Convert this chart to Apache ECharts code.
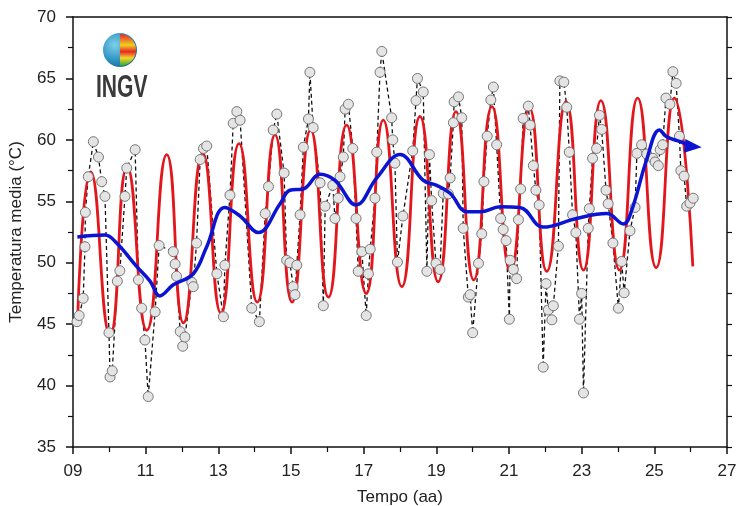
<!DOCTYPE html>
<html>
<head>
<meta charset="utf-8">
<title>Temperatura media</title>
<script src="https://cdn.jsdelivr.net/npm/echarts@6/dist/echarts.min.js"></script>
<style>
  html, body { margin: 0; padding: 0; background: #fff; }
  #chart { width: 737px; height: 506px; }
</style>
</head>
<body>
<div id="chart"></div>
<script>
// anni (09 = 2009) e temperature misurate
var obsYears = [9.11, 9.17, 9.28, 9.33, 9.34, 9.42, 9.56, 9.70, 9.79, 9.88, 9.99, 10.02, 10.08, 10.22, 10.29, 10.43, 10.48, 10.71, 10.80, 10.89, 10.98, 11.07, 11.26, 11.37,
  11.76, 11.81, 11.85, 11.95, 12.02, 12.08, 12.27, 12.31, 12.40, 12.50, 12.59, 12.68, 12.96, 13.14, 13.18, 13.32, 13.41, 13.51, 13.60, 13.92, 14.13, 14.29, 14.38, 14.51, 14.61, 14.81,
  14.88, 14.97, 15.06, 15.11, 15.16, 15.25, 15.34, 15.48, 15.52, 15.61, 15.80, 15.89, 15.94, 16.15, 16.21, 16.30, 16.35, 16.44, 16.49, 16.58, 16.70, 16.79, 16.85, 16.95,
  17.07, 17.13, 17.18, 17.31, 17.36, 17.45, 17.50, 17.77, 17.80, 17.86, 17.93, 18.08, 18.35, 18.44, 18.48, 18.64, 18.74, 18.81, 18.87, 18.99, 19.10, 19.19, 19.33, 19.38,
  19.47, 19.49, 19.61, 19.70, 19.74, 19.88, 19.93, 20.00, 20.16, 20.25, 20.31, 20.40, 20.50, 20.57, 20.66, 20.77, 20.84, 20.92, 21.01, 21.03, 21.12, 21.21, 21.26, 21.32,
  21.39, 21.53, 21.58, 21.67, 21.74, 21.83, 21.94, 22.02, 22.08, 22.18, 22.22, 22.36, 22.40, 22.51, 22.59, 22.66, 22.75, 22.84, 22.94, 23.00, 23.05, 23.18, 23.21, 23.30,
  23.41, 23.49, 23.55, 23.67, 23.73, 23.86, 24.01, 24.10, 24.17, 24.33, 24.47, 24.52, 24.65, 24.79, 24.96, 25.02, 25.11, 25.16, 25.23, 25.32, 25.43, 25.51, 25.60, 25.69,
  25.73, 25.82, 25.89, 25.98, 26.07];
var obsTemps = [45.2, 45.7, 47.1, 51.3, 54.1, 57.0, 59.85, 58.6, 56.6, 55.4, 44.3, 40.7, 41.2, 48.5, 49.35, 55.4, 57.7, 59.2, 48.6, 46.3, 43.7, 39.1, 46.0, 51.4,
  50.9, 49.9, 48.9, 44.4, 43.2, 43.95, 48.4, 48.05, 51.6, 58.4, 59.3, 59.5, 49.1, 45.6, 49.8, 55.5, 61.35, 62.3, 61.6, 46.3, 45.2, 54.0, 56.2, 60.8, 62.1, 57.3,
  50.2, 50.0, 48.05, 47.4, 49.8, 53.9, 59.4, 61.7, 65.5, 61.0, 56.5, 46.5, 54.6, 56.3, 53.6, 55.25, 57.0, 58.6, 62.5, 62.9, 59.3, 53.6, 49.3, 50.9,
  45.7, 49.1, 51.1, 55.25, 59.0, 65.5, 67.2, 61.8, 60.0, 58.1, 50.05, 53.8, 59.1, 63.2, 65.0, 63.9, 49.3, 58.8, 55.05, 49.95, 49.45, 55.65, 55.6, 56.9,
  61.4, 63.1, 63.5, 61.8, 52.8, 47.2, 47.4, 44.3, 49.95, 52.35, 56.6, 60.3, 63.25, 64.3, 59.6, 53.6, 52.7, 51.8, 45.4, 50.2, 49.45, 48.7, 53.5, 56.0,
  61.75, 62.75, 61.2, 57.9, 55.9, 54.7, 41.5, 48.3, 46.15, 45.35, 46.5, 51.35, 64.8, 64.7, 62.65, 59.0, 53.9, 52.45, 45.4, 47.5, 39.4, 52.8, 54.4, 58.5,
  59.3, 62.0, 60.85, 55.9, 54.8, 51.6, 46.3, 50.1, 47.55, 52.6, 54.5, 58.9, 59.6, 58.85, 58.5, 58.2, 57.9, 59.2, 59.6, 63.4, 62.9, 65.55, 64.6, 60.3,
  57.5, 57.05, 54.6, 54.85, 55.25];

// massimi e minimi della curva stagionale (rossa)
var fitYears = [9.12, 9.49, 10.02, 10.49, 11.03, 11.58, 12.04, 12.57, 13.07, 13.57, 14.07, 14.56, 15.03, 15.54, 16.03, 16.53, 17.07, 17.54,
  18.05, 18.55, 19.05, 19.54, 20.03, 20.53, 21.04, 21.56, 22.04, 22.57, 23.05, 23.53, 24.04, 24.54, 25.05, 25.55, 26.06];
var fitTemps = [44.8, 57.4, 44.1, 57.8, 44.5, 58.8, 45.1, 58.9, 45.9, 59.7, 46.8, 60.4, 46.8, 60.8, 47.2, 61.2, 47.5, 61.6,
  48.05, 61.9, 48.45, 62.3, 48.6, 62.7, 49.3, 62.6, 49.3, 63.1, 49.4, 63.2, 49.4, 63.4, 49.6, 63.4, 49.7];

// andamento medio (blu)
var trendYears = [9.12, 9.88, 10.2, 10.75, 11.12, 11.39, 11.76, 12.31, 12.68, 13.18, 13.6, 14.10, 14.70, 14.97, 15.34, 15.80, 16.21, 16.79, 17.36, 18.00,
  18.64, 19.01, 19.38, 19.84, 20.21, 20.76, 21.3, 21.94, 22.86, 23.69, 24.15, 24.38, 24.79, 25.14, 25.34, 25.71, 26.07];
var trendTemps = [52.1, 52.25, 51.6, 49.7, 48.5, 47.3, 48.2, 49.1, 51.3, 54.5, 53.8, 52.45, 54.8, 55.9, 56.0, 57.2, 56.7, 54.7, 56.9, 58.8,
  56.7, 56.3, 55.65, 54.15, 54.15, 54.55, 54.5, 52.9, 53.6, 54.0, 53.15, 54.3, 58.4, 60.8, 60.25, 59.85, 59.45];

var xTicks = [9, 27, 2];   // min, max, passo
var yTicks = [35, 70, 5];

function pairs(xs, ys) {
  return xs.map(function (x, i) { return [x, ys[i]]; });
}

var chart = echarts.init(document.getElementById('chart'));

var trendData = pairs(trendYears, trendTemps);
var last = trendData[trendData.length - 1];
trendData[trendData.length - 1] = {
  value: last,
  symbol: 'triangle',
  symbolSize: [14, 17],
  symbolRotate: -95,
  itemStyle: { color: '#0a14d2' }
};

var font = "'Liberation Sans', Arial, sans-serif";

var option = {
  backgroundColor: '#fff',
  animation: false,
  grid: { left: 73, right: 10, top: 17, bottom: 59, outerBoundsMode: 'none', containLabel: false },
  xAxis: [{
    type: 'value',
    min: xTicks[0], max: xTicks[1], interval: xTicks[2],
    name: 'Tempo (aa)',
    nameLocation: 'middle',
    nameGap: 42,
    nameTextStyle: { fontFamily: font, fontSize: 17, color: '#222' },
    axisLine: { lineStyle: { color: '#111', width: 1.5 } },
    axisTick: { length: 7, lineStyle: { color: '#111', width: 1.5 } },
    minorTick: { show: true, splitNumber: 2, length: 5, lineStyle: { color: '#111', width: 1.2 } },
    axisLabel: {
      fontFamily: font, fontSize: 17, color: '#222', margin: 16,
      formatter: function (v) { return (v < 10 ? '0' : '') + v; }
    },
    splitLine: { show: false }
  }, {
    type: 'value', position: 'top',
    min: xTicks[0], max: xTicks[1], interval: xTicks[2],
    axisLine: { show: true, onZero: false, lineStyle: { color: '#111', width: 1.5 } },
    axisTick: { show: false }, axisLabel: { show: false }, splitLine: { show: false }
  }],
  yAxis: [{
    type: 'value',
    min: yTicks[0], max: yTicks[1], interval: yTicks[2],
    name: 'Temperatura media (°C)',
    nameLocation: 'middle',
    nameGap: 48,
    nameTextStyle: { fontFamily: font, fontSize: 17, color: '#222' },
    axisLine: { show: true, lineStyle: { color: '#111', width: 1.5 } },
    axisTick: { show: true, length: 7, lineStyle: { color: '#111', width: 1.5 } },
    minorTick: { show: true, splitNumber: 2, length: 5, lineStyle: { color: '#111', width: 1.2 } },
    axisLabel: { fontFamily: font, fontSize: 17, color: '#222', margin: 17 },
    splitLine: { show: false }
  }, {
    type: 'value', position: 'right',
    min: yTicks[0], max: yTicks[1], interval: yTicks[2],
    axisLine: { show: true, onZero: false, lineStyle: { color: '#111', width: 1.5 } },
    axisTick: { show: true, length: 5, lineStyle: { color: '#111', width: 1.2 } },
    minorTick: { show: true, splitNumber: 2, length: 5, lineStyle: { color: '#111', width: 1.2 } },
    axisLabel: { show: false }, splitLine: { show: false }
  }],
  graphic: [
    {
      type: 'circle', left: 103, top: 33, z: 10,
      shape: { r: 17 },
      style: {
        fill: {
          type: 'radial', x: 0.35, y: 0.35, r: 0.8,
          colorStops: [{ offset: 0, color: '#7fd0e8' }, { offset: 0.6, color: '#2a8fbf' }, { offset: 1, color: '#1a5a86' }]
        }
      }
    },
    {
      type: 'sector', left: 120, top: 34, z: 11,
      shape: { cx: 0, cy: 16, r: 16, startAngle: -Math.PI / 2, endAngle: Math.PI / 2 },
      style: {
        fill: {
          type: 'linear', x: 0, y: 0, x2: 0, y2: 1,
          colorStops: [{ offset: 0, color: '#e8262a' }, { offset: 0.35, color: '#f0d020' },
            { offset: 0.55, color: '#e8262a' }, { offset: 0.75, color: '#f4d62a' }, { offset: 1, color: '#2aa43a' }]
        }
      }
    },
    {
      type: 'text', x: 96, y: 73, scaleX: 0.68, z: 11,
      style: {
        text: 'INGV',
        font: "bold 31px 'Liberation Sans', Arial, sans-serif",
        fill: '#3a3a3a'
      }
    }
  ],
  series: [
    {
      name: 'misure',
      type: 'line',
      data: pairs(obsYears, obsTemps),
      showSymbol: false,
      symbol: 'none',
      lineStyle: { color: '#111', width: 1.3, type: [4, 3] },
      z: 2
    },
    {
      name: 'ciclo stagionale',
      type: 'line',
      data: pairs(fitYears, fitTemps),
      smooth: 0.55,
      symbol: 'none',
      lineStyle: { color: '#e3161c', width: 2.8 },
      z: 3
    },
    {
      name: 'punti',
      type: 'scatter',
      data: pairs(obsYears, obsTemps),
      symbol: 'circle',
      symbolSize: 10,
      itemStyle: { color: '#e4e4e4', borderColor: '#777', borderWidth: 1, opacity: 1 },
      z: 4
    },
    {
      name: 'tendenza',
      type: 'line',
      data: trendData,
      smooth: 0.4,
      symbol: 'none',
      showSymbol: true,
      lineStyle: { color: '#0a14d2', width: 3.5 },
      z: 5
    }
  ]
};

chart.setOption(option);
</script>
</body>
</html>
